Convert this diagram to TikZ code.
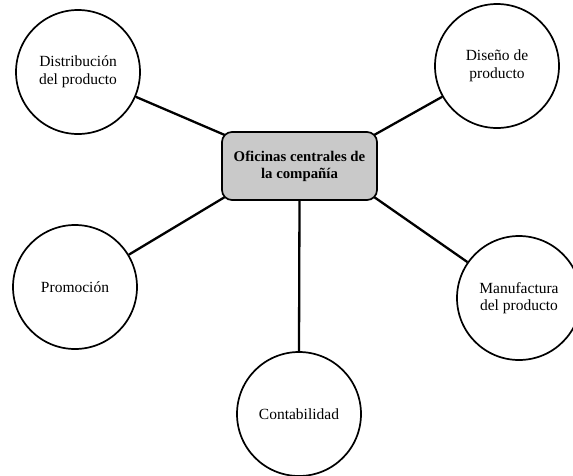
\documentclass[tikz,border=0pt]{standalone}
\usepackage{fontspec}
\setmainfont{Liberation Serif}
\usetikzlibrary{backgrounds}
\begin{document}
\begin{tikzpicture}[x=1pt,y=-1pt,
  dept/.style={circle, draw=black, line width=1.7pt, minimum size=124pt,
    inner sep=0pt, align=center, font=\fontsize{15.5}{17.5}\selectfont},
  hub/.style={rectangle, rounded corners=10pt, draw=black, line width=1.7pt,
    fill=gray!42, minimum width=155pt, minimum height=68pt, align=center,
    font=\fontsize{14.8}{17}\selectfont\bfseries},
  link/.style={line width=2.3pt, black}]
\useasboundingbox (0,0) rectangle (573,475);

% central office
\node[hub] (hq) at (299.5,166) {Oficinas centrales de\\la compañía};

% departments
\node[dept] (dist) at (78,72)   {Distribución\\del producto};
\node[dept] (dis)  at (497,66)  {Diseño de\\producto};
\node[dept] (prom) at (75,287)  {Promoción};
\node[dept] (manu) at (519,298) {Manufactura\\del producto};
\node[dept] (cont) at (299,414) {Contabilidad};

% connectors, drawn behind the central box
\begin{pgfonlayer}{background}
\draw[link] (dist) -- ([shift={(4,4)}]hq.north west);
\draw[link] (dis)  -- ([shift={(-4,4)}]hq.north east);
\draw[link] (prom) -- ([shift={(4,-4)}]hq.south west);
\draw[link] (manu) -- ([shift={(-4,-4)}]hq.south east);
\draw[link] (hq.south) -- (cont.north);
\end{pgfonlayer}
\end{tikzpicture}
\end{document}
